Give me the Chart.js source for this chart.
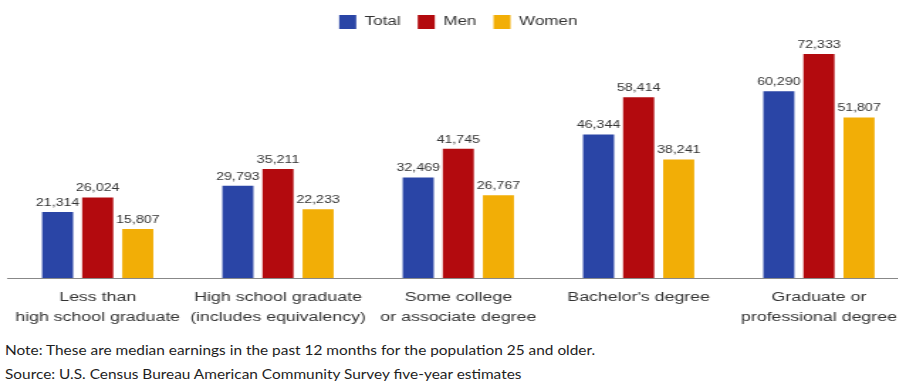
<!DOCTYPE html>
<html>
<head>
<meta charset="utf-8">
<script src="https://cdn.jsdelivr.net/npm/chart.js@4.4.1/dist/chart.umd.min.js"></script>
<style>
  html, body { margin: 0; padding: 0; background: #fff; width: 898px; height: 387px; overflow: hidden; }
  /* the whole chart is drawn narrow and widened, so glyphs come out broad and flat */
  #wrap { position: absolute; left: 0; top: 0; width: 644px; height: 330px; transform: scaleX(1.42); transform-origin: 0 0; }
  #notes { position: absolute; left: 5px; top: 338px; transform: scaleX(1.1); transform-origin: 0 0; }
  .note { font-family: Lato, "Noto Sans", sans-serif; font-size: 14px; line-height: 24px; color: #1e1e1e; white-space: nowrap; }
</style>
</head>
<body>
<div id="wrap"><canvas id="earningsChart" width="644" height="330"></canvas></div>
<div id="notes">
  <div class="note">Note: These are median earnings in the past 12 months for the population 25 and older.</div>
  <div class="note">Source: U.S. Census Bureau American Community Survey five-year estimates</div>
</div>
<script>
const CATEGORIES = [
  ['Less than', 'high school graduate'],
  ['High school graduate', '(includes equivalency)'],
  ['Some college', 'or associate degree'],
  ["Bachelor's degree"],
  ['Graduate or', 'professional degree'],
];
const TOTAL = [21314, 29793, 32469, 46344, 60290];
const MEN = [26024, 35211, 41745, 58414, 72333];
const WOMEN = [15807, 22233, 26767, 38241, 51807];

const COLORS = { total: '#2a45a6', men: '#b30a0e', women: '#f2ae06' };
const FONT = '"Liberation Sans", Arial, sans-serif';

// dollar figure printed above every bar
const valueLabels = {
  id: 'valueLabels',
  afterDatasetsDraw(chart) {
    const { ctx } = chart;
    ctx.save();
    ctx.font = '10px ' + FONT;
    ctx.fillStyle = '#333';
    ctx.textAlign = 'center';
    ctx.textBaseline = 'bottom';
    chart.data.datasets.forEach((ds, i) => {
      chart.getDatasetMeta(i).data.forEach((bar, j) => {
        ctx.fillText(ds.data[j].toLocaleString('en-US'), bar.x, bar.y - 4);
      });
    });
    ctx.restore();
  },
};

const dataset = (label, data, color) => ({
  label, data, backgroundColor: color, borderWidth: 0,
  categoryPercentage: 0.667, barPercentage: 0.775,
});

new Chart(document.getElementById('earningsChart'), {
  type: 'bar',
  data: {
    labels: CATEGORIES,
    datasets: [
      dataset('Total', TOTAL, COLORS.total),
      dataset('Men', MEN, COLORS.men),
      dataset('Women', WOMEN, COLORS.women),
    ],
  },
  options: {
    responsive: false,
    animation: false,
    layout: { padding: { left: 5.3, right: 3.8, top: 3, bottom: 0 } },
    plugins: {
      legend: {
        position: 'top',
        labels: { boxWidth: 12, boxHeight: 14, padding: 12, color: '#333', font: { family: FONT, size: 12 } },
      },
      tooltip: { enabled: false },
    },
    scales: {
      x: {
        grid: { display: false },
        border: { display: true, color: '#888', width: 1 },
        ticks: { color: '#333', padding: 2, maxRotation: 0, autoSkip: false, font: { family: FONT, size: 12.5, lineHeight: 1.6 } },
      },
      y: { display: false, min: 0, max: 77200 },
    },
  },
  plugins: [valueLabels],
});
</script>
</body>
</html>
